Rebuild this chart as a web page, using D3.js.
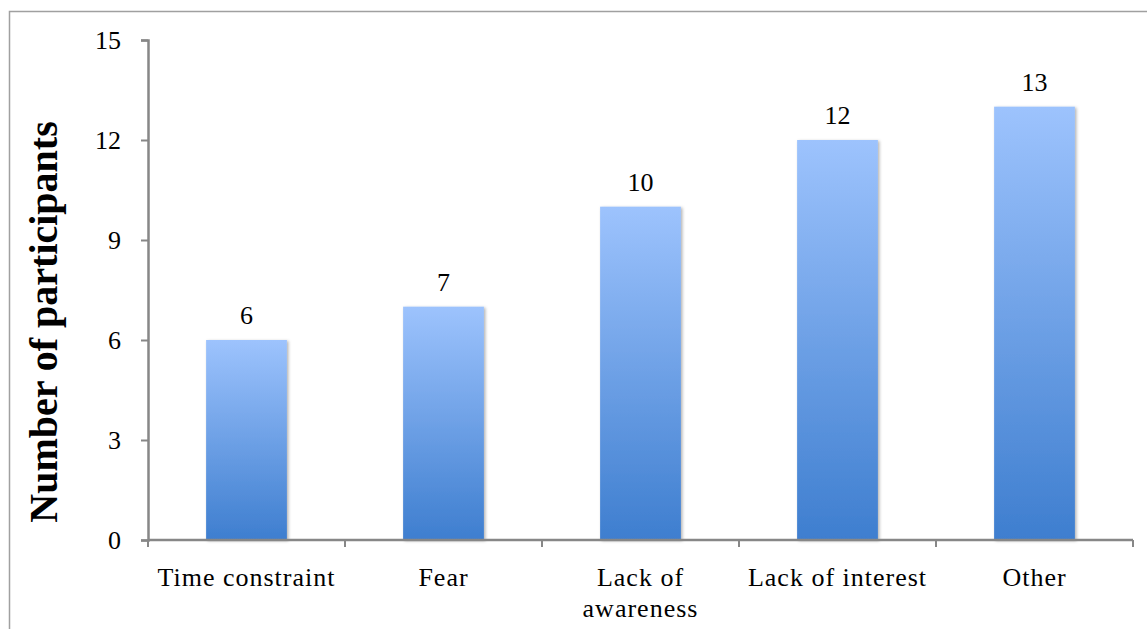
<!DOCTYPE html>
<html>
<head>
<meta charset="utf-8">
<script src="https://cdn.jsdelivr.net/npm/d3@7"></script>
<style>
  body { margin: 0; background: #fff; }
  text { font-family: "Liberation Serif", "DejaVu Serif", serif; }
</style>
</head>
<body>
<div id="chart"></div>
<script>
var categories = ["Time constraint", "Fear", "Lack of awareness", "Lack of interest", "Other"];
var catLines = [["Time constraint"], ["Fear"], ["Lack of", "awareness"], ["Lack of interest"], ["Other"]];
var values = [6, 7, 10, 12, 13];
var yTicks = [0, 3, 6, 9, 12, 15];

var width = 1147, height = 629;
var margin = {left: 148, right: 14, top: 40, bottom: 89};

var svg = d3.select("#chart").append("svg")
  .attr("width", width)
  .attr("height", height);

var defs = svg.append("defs");
var grad = defs.append("linearGradient")
  .attr("id", "barGrad")
  .attr("x1", 0).attr("y1", 0).attr("x2", 0).attr("y2", 1);
grad.append("stop").attr("offset", "0%").attr("stop-color", "#9dc3fd");
grad.append("stop").attr("offset", "100%").attr("stop-color", "#3e7ecf");

var shadow = defs.append("filter").attr("id", "shadow")
  .attr("x", "-20%").attr("y", "-5%").attr("width", "140%").attr("height", "110%");
shadow.append("feDropShadow")
  .attr("dx", 1.5).attr("dy", 1).attr("stdDeviation", 1.5)
  .attr("flood-color", "#000").attr("flood-opacity", 0.3);

// outer frame
svg.append("rect")
  .attr("x", 9.5).attr("y", 11.5)
  .attr("width", 1146).attr("height", 640)
  .attr("fill", "none")
  .attr("stroke", "#a0a0a0")
  .attr("stroke-width", 1.5);

var x = d3.scaleBand()
  .domain(categories)
  .range([margin.left, width - margin.right])
  .paddingInner(0.59)
  .paddingOuter(0.295);

var y = d3.scaleLinear()
  .domain([0, 15])
  .range([height - margin.bottom, margin.top]);

svg.selectAll("rect.bar")
  .data(values)
  .enter().append("rect")
  .attr("class", "bar")
  .attr("x", function(d, i) { return x(categories[i]); })
  .attr("y", function(d) { return y(d); })
  .attr("width", x.bandwidth())
  .attr("height", function(d) { return y(0) - y(d); })
  .attr("fill", "url(#barGrad)")
  .attr("filter", "url(#shadow)");

// value labels
svg.selectAll("text.val")
  .data(values)
  .enter().append("text")
  .attr("class", "val")
  .attr("x", function(d, i) { return x(categories[i]) + x.bandwidth() / 2; })
  .attr("y", function(d) { return y(d) - 16; })
  .attr("text-anchor", "middle")
  .attr("font-size", 26)
  .attr("fill", "#000")
  .text(function(d) { return d; });

// y axis
var yAxis = d3.axisLeft(y).tickValues(yTicks).tickSize(7).tickPadding(20);
var gy = svg.append("g")
  .attr("transform", "translate(" + margin.left + ",0)")
  .call(yAxis);
gy.select(".domain").attr("stroke", "#878787").attr("stroke-width", 2.5);
gy.selectAll(".tick line").attr("stroke", "#878787").attr("stroke-width", 2);
gy.selectAll(".tick text").attr("font-size", 26).attr("fill", "#000")
  .attr("font-family", "Liberation Serif, serif");

// x axis: ticks at band boundaries
var bounds = d3.range(categories.length + 1).map(function(i) {
  return margin.left + i * x.step();
});
var gx = svg.append("g");
gx.append("line")
  .attr("x1", margin.left).attr("x2", width - margin.right)
  .attr("y1", y(0)).attr("y2", y(0))
  .attr("stroke", "#878787").attr("stroke-width", 2.5);
gx.selectAll("line.tk")
  .data(bounds)
  .enter().append("line")
  .attr("class", "tk")
  .attr("x1", function(d) { return d; }).attr("x2", function(d) { return d; })
  .attr("y1", y(0)).attr("y2", y(0) + 7)
  .attr("stroke", "#878787").attr("stroke-width", 2);

var labels = gx.selectAll("text.cat")
  .data(categories)
  .enter().append("text")
  .attr("class", "cat")
  .attr("x", function(d) { return x(d) + x.bandwidth() / 2; })
  .attr("y", y(0) + 46)
  .attr("text-anchor", "middle")
  .attr("font-size", 26)
  .attr("letter-spacing", 1)
  .attr("fill", "#000");
labels.each(function(d, i) {
  var t = d3.select(this);
  catLines[i].forEach(function(line, j) {
    t.append("tspan")
      .attr("x", x(d) + x.bandwidth() / 2)
      .attr("dy", j === 0 ? 0 : 31)
      .text(line);
  });
});

// y axis title
svg.append("text")
  .attr("transform", "translate(57,322) rotate(-90)")
  .attr("text-anchor", "middle")
  .attr("font-size", 40)
  .attr("font-weight", "bold")
  .attr("fill", "#000")
  .text("Number of participants");
</script>
</body>
</html>
